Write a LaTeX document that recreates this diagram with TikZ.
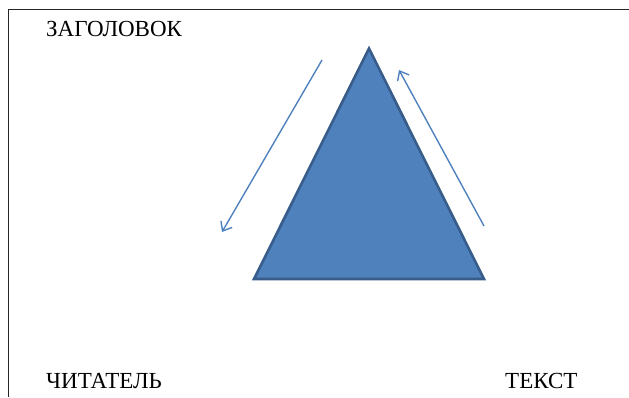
\documentclass[tikz,border=0pt]{standalone}
\usepackage{fontspec}
\setmainfont{Liberation Serif}
\usetikzlibrary{arrows.meta}
\definecolor{shapefill}{HTML}{4F81BD}
\definecolor{shapeedge}{HTML}{385D8A}
\definecolor{framegray}{HTML}{262626}
\begin{document}
\begin{tikzpicture}[x=1bp,y=-1bp,
  frameline/.style={draw=framegray,line width=1.6bp},
  label/.style={inner sep=0pt,font=\fontsize{23bp}{26bp}\selectfont},
  flow/.style={draw=shapefill,line width=1.4bp,-{Straight Barb[length=8bp,width=13bp,line width=1.4bp]}}]
  \useasboundingbox (0,0) rectangle (629,397);
  % page frame (left and top edges)
  \coordinate (fb) at (8.5,397);
  \coordinate (ftl) at (8.5,9.5);
  \coordinate (fr) at (629,9.5);
  \draw[frameline] (fb) -- (ftl) -- (fr);
  % labels
  \node[label,anchor=base west] (title) at (46,36) {ЗАГОЛОВОК};
  \node[label,anchor=base west] (reader) at (46,388) {ЧИТАТЕЛЬ};
  \node[label,anchor=base west] (text) at (505,388) {ТЕКСТ};
  % triangle
  \coordinate (apex) at (369,48.5);
  \coordinate (bl) at (254,279);
  \coordinate (br) at (484,279);
  \draw[fill=shapefill,draw=shapeedge,line width=2.6bp,line join=miter] (apex) -- (br) -- (bl) -- cycle;
  % arrows along the sides
  \coordinate (la) at (322,60);
  \coordinate (lb) at (222,232);
  \coordinate (ra) at (484,226);
  \coordinate (rb) at (399,70);
  \draw[flow] (la) -- (lb);
  \draw[flow] (ra) -- (rb);
\end{tikzpicture}
\end{document}
